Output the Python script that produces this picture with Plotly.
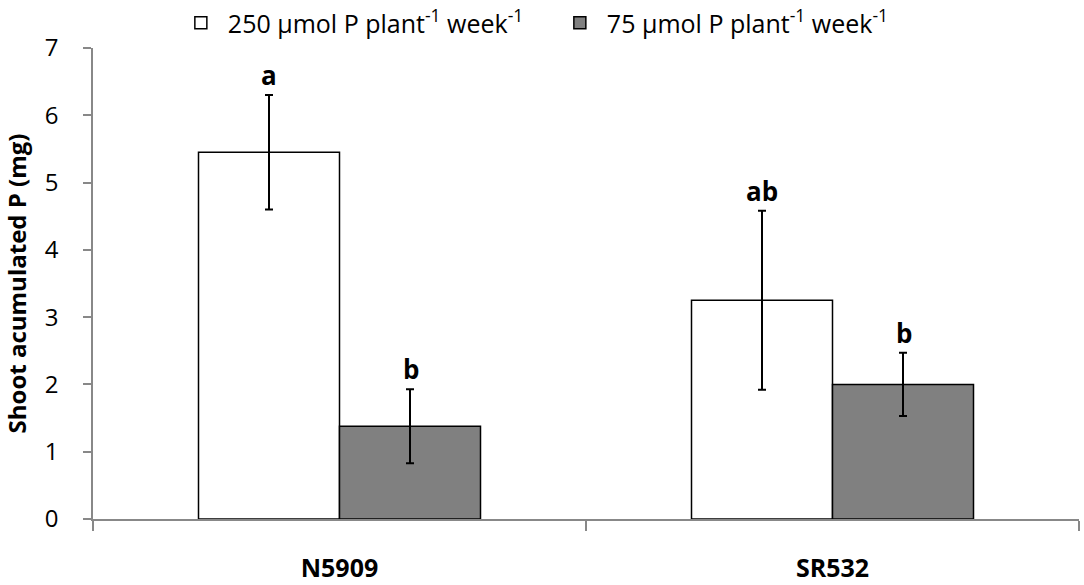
import plotly.graph_objects as go

genotypes = ["N5909", "SR532"]
high_p = [5.45, 3.25]
high_p_err = [0.85, 1.33]
low_p = [1.38, 2.00]
low_p_err = [0.55, 0.47]
high_letters = ["a", "ab"]
low_letters = ["b", "b"]
y_ticks = [0, 1, 2, 3, 4, 5, 6, 7]

font = "Open Sans"

fig = go.Figure()
fig.add_trace(go.Bar(
    x=genotypes, y=high_p, name="250 µmol P plant<sup>-1</sup> week<sup>-1</sup>",
    marker=dict(color="white", line=dict(color="black", width=1.5)),
    error_y=dict(type="data", array=high_p_err, color="black", thickness=2, width=4),
))
fig.add_trace(go.Bar(
    x=genotypes, y=low_p, name="75 µmol P plant<sup>-1</sup> week<sup>-1</sup>",
    marker=dict(color="#808080", line=dict(color="black", width=1.5)),
    error_y=dict(type="data", array=low_p_err, color="black", thickness=2, width=4),
))

# significance letters above the error bars
for g, v, e, t in zip(genotypes, high_p, high_p_err, high_letters):
    fig.add_annotation(x=g, y=v + e, text="<b>%s</b>" % t, xshift=-71, yshift=0,
                       yanchor="bottom", showarrow=False, font=dict(size=26, family=font, color="black"))
for g, v, e, t in zip(genotypes, low_p, low_p_err, low_letters):
    fig.add_annotation(x=g, y=v + e, text="<b>%s</b>" % t, xshift=71, yshift=0,
                       yanchor="bottom", showarrow=False, font=dict(size=26, family=font, color="black"))

fig.update_layout(
    width=1084, height=585,
    margin=dict(l=93, r=5, t=48, b=66, autoexpand=False),
    plot_bgcolor="white", paper_bgcolor="white",
    barmode="group", bargap=0.428, bargroupgap=0,
    font=dict(family=font, size=22, color="black"),
    showlegend=True,
    legend=dict(orientation="h", x=0.082, xanchor="left", xref="paper",
                y=1.0, yanchor="top", yref="container",
                font=dict(size=25), entrywidth=320, entrywidthmode="pixels", itemwidth=44,
                bgcolor="rgba(0,0,0,0)"),
)
fig.update_xaxes(
    showline=True, linecolor="#888888", linewidth=1.5, automargin=False,
    ticks="outside", tickson="boundaries", ticklen=10, tickcolor="#888888", tickwidth=1.5,
    tickfont=dict(size=25, family=font), ticklabelstandoff=26,
    tickprefix="<b>", ticksuffix="</b>",
)
fig.update_yaxes(
    range=[0, 7], tickvals=y_ticks, showgrid=False, zeroline=False,
    showline=True, linecolor="#888888", linewidth=1.5,
    ticks="outside", ticklen=8, tickcolor="#888888", tickwidth=1.5,
    tickfont=dict(size=24, family=font), ticklabelstandoff=20, automargin=False,
    title=dict(text="<b>Shoot acumulated P (mg)</b>", font=dict(size=24, family=font), standoff=14),
)

# drop the browser's default page margin so the figure sits at the top-left corner
fig.write_html("out.html", config={"displayModeBar": False},
               post_script="document.body.style.margin='0';")
